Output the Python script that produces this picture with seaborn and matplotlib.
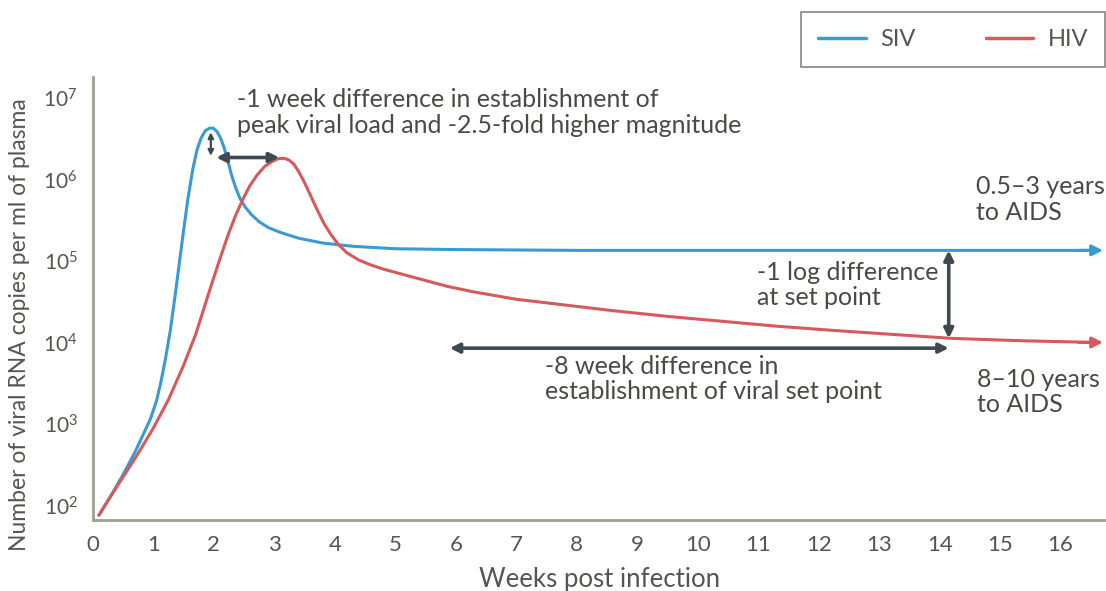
import numpy as np
import pandas as pd
import matplotlib
matplotlib.use("Agg")
import matplotlib.pyplot as plt
import seaborn as sns
from matplotlib.lines import Line2D

# Data (log10 RNA copies per ml)
siv_weeks = [0.1, 0.3, 0.5, 0.7, 0.85, 0.95, 1.05, 1.12, 1.2, 1.28, 1.36, 1.43, 1.5,
             1.57, 1.65, 1.72, 1.79, 1.86, 1.93, 1.99, 2.05, 2.11, 2.17, 2.23, 2.29,
             2.36, 2.43, 2.52, 2.62, 2.75, 2.9, 3.1, 3.4, 3.8, 4.3, 5.0, 6.0, 8.0, 16.6]
siv_log = [1.88, 2.12, 2.38, 2.66, 2.9, 3.06, 3.28, 3.5, 3.8, 4.15, 4.58, 4.98, 5.38,
           5.76, 6.12, 6.36, 6.51, 6.6, 6.63, 6.63, 6.59, 6.51, 6.39, 6.23, 6.06,
           5.9, 5.77, 5.66, 5.57, 5.48, 5.41, 5.35, 5.28, 5.22, 5.18, 5.15, 5.14, 5.13, 5.13]

hiv_weeks = [0.1, 0.3, 0.5, 0.75, 1.0, 1.25, 1.5, 1.7, 1.87, 2.0, 2.12, 2.24, 2.36,
             2.48, 2.6, 2.72, 2.84, 2.96, 3.06, 3.16, 3.24, 3.32, 3.4, 3.5, 3.6, 3.7,
             3.82, 3.94, 4.06, 4.2, 4.4, 4.6, 4.8, 5.0, 5.4, 5.85, 6.3, 7.0, 7.8, 8.6,
             9.5, 10.4, 11.3, 12.2, 13.2, 14.2, 15.4, 16.6]
hiv_log = [1.88, 2.12, 2.35, 2.64, 2.95, 3.3, 3.72, 4.1, 4.5, 4.8, 5.07, 5.33, 5.56,
           5.76, 5.93, 6.06, 6.16, 6.22, 6.255, 6.26, 6.24, 6.19, 6.1, 5.96, 5.8, 5.64,
           5.46, 5.32, 5.2, 5.1, 5.01, 4.95, 4.9, 4.86, 4.78, 4.69, 4.62, 4.53, 4.46, 4.39,
           4.32, 4.26, 4.2, 4.15, 4.1, 4.05, 4.02, 4.0]

# annotation arrows: (x0, x1, log y0, log y1)
peak_vert = (1.95, 1.95, 6.58, 6.29)
peak_horiz = (2.04, 3.08, 6.27, 6.27)
setpoint_vert = (14.15, 14.15, 5.13, 4.05)
setpoint_horiz = (5.9, 14.15, 3.93, 3.93)

ytick_pows = [2, 3, 4, 5, 6, 7]
xticks = list(range(0, 17))

siv_color = "#3a9ad4"
hiv_color = "#d65a5c"
arrow_color = "#3e4a4f"
text_color = "#4a4a44"
spine_color = "#a59d8f"

df = pd.concat([
    pd.DataFrame({"week": siv_weeks, "copies": 10 ** np.array(siv_log), "virus": "SIV"}),
    pd.DataFrame({"week": hiv_weeks, "copies": 10 ** np.array(hiv_log), "virus": "HIV"}),
])

sns.set_style("white")
plt.rcParams["font.family"] = ["Lato", "DejaVu Sans"]
plt.rcParams["mathtext.default"] = "regular"

fig = plt.figure(figsize=(11.06, 5.91), dpi=100)
ax = fig.add_axes([0.084, 0.12, 0.916, 0.75])

sns.lineplot(data=df, x="week", y="copies", hue="virus", sort=False,
             palette={"SIV": siv_color, "HIV": hiv_color}, linewidth=2.2,
             legend=False, ax=ax)
ax.set_yscale("log")
ax.set_xlim(0, 16.75)
ax.set_ylim(10 ** 1.82, 10 ** 7.26)

# arrowheads at the line ends
for w, lg, c in [(siv_weeks, siv_log, siv_color), (hiv_weeks, hiv_log, hiv_color)]:
    ax.annotate("", xy=(w[-1] + 0.1, 10 ** lg[-1]), xytext=(w[-1] - 0.3, 10 ** lg[-1]),
                arrowprops=dict(arrowstyle="-|>", color=c, lw=2.2,
                                mutation_scale=16, shrinkA=0, shrinkB=0))

ax.annotate("", xy=(peak_vert[1], 10 ** peak_vert[3]), xytext=(peak_vert[0], 10 ** peak_vert[2]),
            arrowprops=dict(arrowstyle="<|-|>", color=arrow_color, lw=1.6,
                            mutation_scale=8, shrinkA=0, shrinkB=0))
for x0, x1, y0, y1 in [peak_horiz, setpoint_vert, setpoint_horiz]:
    ax.annotate("", xy=(x1, 10 ** y1), xytext=(x0, 10 ** y0),
                arrowprops=dict(arrowstyle="<|-|>", color=arrow_color, lw=2.6,
                                mutation_scale=14, shrinkA=0, shrinkB=0))

fs = 18
ls = 1.12
ax.text(2.38, 10 ** 7.12, "-1 week difference in establishment of\npeak viral load and -2.5-fold higher magnitude",
        fontsize=fs, color=text_color, va="top", ha="left", linespacing=ls)
ax.text(14.6, 10 ** 6.05, "0.5\u20133 years\nto AIDS", fontsize=fs, color=text_color,
        va="top", ha="left", linespacing=ls)
ax.text(10.98, 10 ** 5.0, "-1 log difference\nat set point", fontsize=fs, color=text_color,
        va="top", ha="left", linespacing=ls)
ax.text(7.47, 10 ** 3.85, "-8 week difference in\nestablishment of viral set point", fontsize=fs,
        color=text_color, va="top", ha="left", linespacing=ls)
ax.text(14.61, 10 ** 3.69, "8\u201310 years\nto AIDS", fontsize=fs, color=text_color,
        va="top", ha="left", linespacing=ls)

# axes styling
for side in ["top", "right"]:
    ax.spines[side].set_visible(False)
for side in ["left", "bottom"]:
    ax.spines[side].set_color(spine_color)
    ax.spines[side].set_linewidth(2)

ax.set_xticks(xticks)
ax.set_xticklabels([str(t) for t in xticks])
ax.set_yticks([10 ** p for p in ytick_pows])
ax.set_yticklabels([f"$10^{{{p}}}$" for p in ytick_pows])
ax.minorticks_off()
ax.tick_params(axis="both", direction="out", length=5, width=1.3, color=spine_color,
               labelcolor="#555550", pad=6)
ax.tick_params(axis="x", labelsize=16)
ax.tick_params(axis="y", labelsize=15)

ax.set_xlabel("Weeks post infection", fontsize=18.5, color="#555550")
ax.set_ylabel("Number of viral RNA copies per ml of plasma", fontsize=16.5, color="#555550")
ax.xaxis.set_label_coords(0.5, -0.105)
ax.yaxis.set_label_coords(-0.062, 0.44)

handles = [Line2D([0], [0], color=siv_color, lw=2.5), Line2D([0], [0], color=hiv_color, lw=2.5)]
leg = fig.legend(handles, ["SIV", "HIV"], loc="upper right", bbox_to_anchor=(0.999, 0.98),
                 ncol=2, fontsize=17, frameon=True, fancybox=False, edgecolor="#666666",
                 handlelength=2.0, columnspacing=3.0, borderpad=0.72, handletextpad=0.6,
                 borderaxespad=0)
leg.get_frame().set_linewidth(1.2)
for t in leg.get_texts():
    t.set_color("#555550")

fig.savefig("out.png", dpi=100)
